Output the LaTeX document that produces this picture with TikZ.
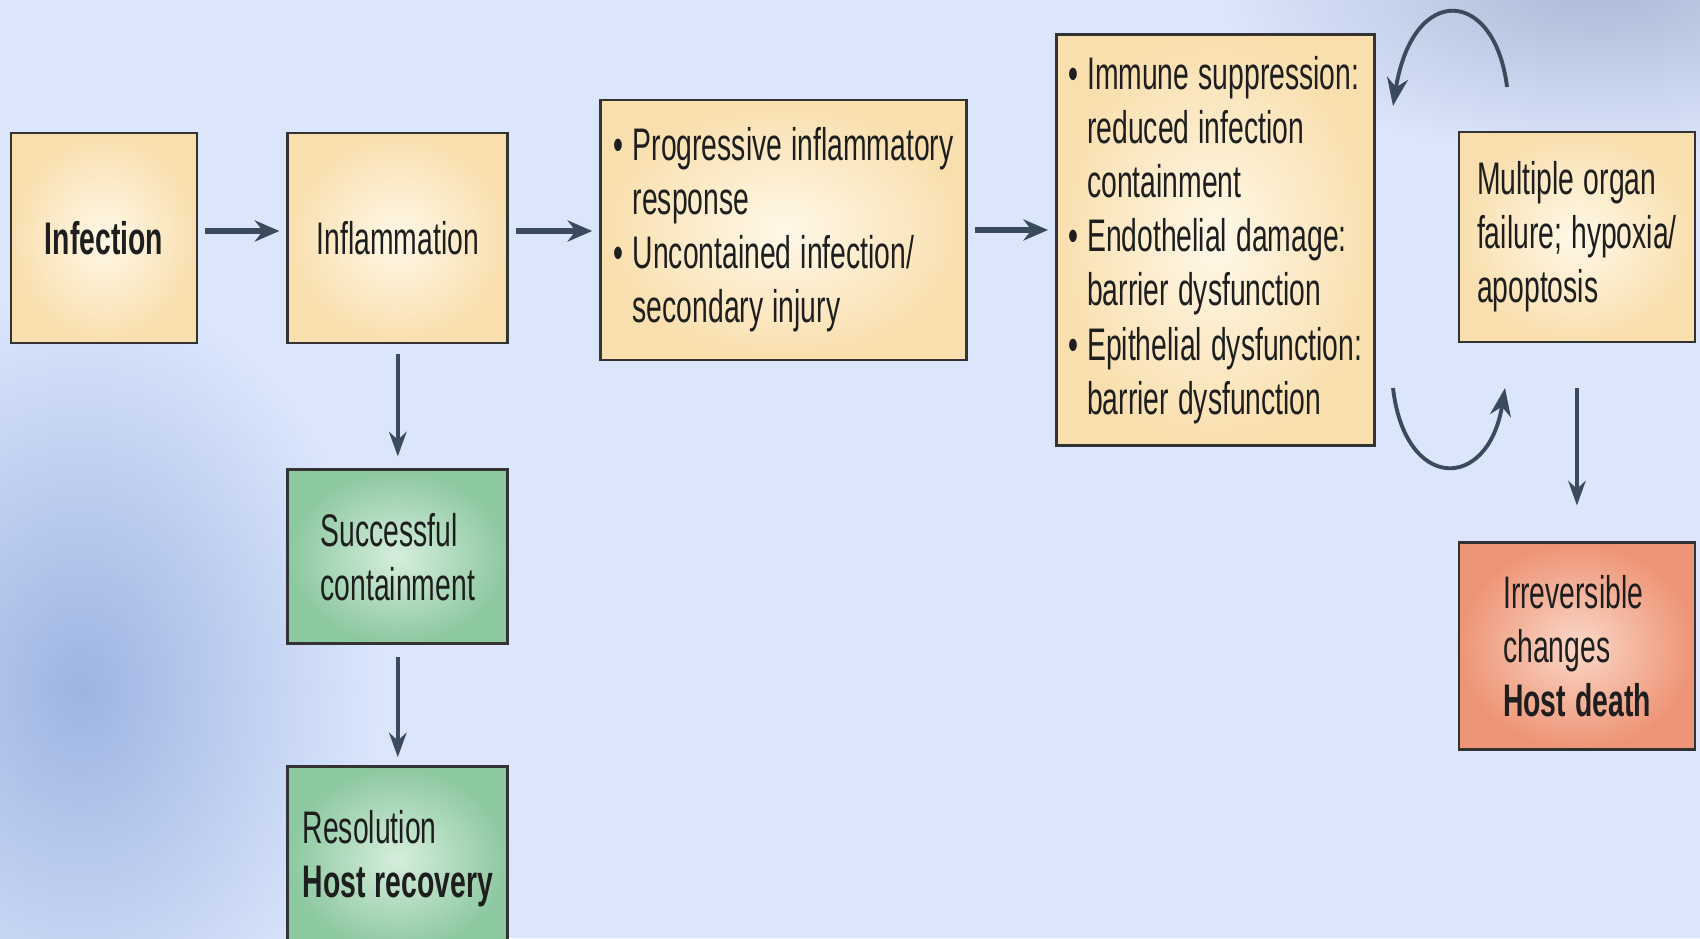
\documentclass[tikz,border=0pt]{standalone}
\usepackage{fontspec}
\setmainfont{Liberation Sans}[FakeStretch=0.62]
\usetikzlibrary{arrows.meta, positioning}
\definecolor{bgblue}{HTML}{DBE6FC}
\definecolor{blobleft}{HTML}{9DB4E2}
\definecolor{blobright}{HTML}{ADB9D6}
\definecolor{creamin}{HTML}{FFF8E8}
\definecolor{creamout}{HTML}{F9DFAE}
\definecolor{greenin}{HTML}{D6EEDC}
\definecolor{greenout}{HTML}{8CC8A0}
\definecolor{redin}{HTML}{FAD8C8}
\definecolor{redout}{HTML}{EE9476}
\definecolor{boxline}{HTML}{333333}
\definecolor{arrowcol}{HTML}{3A4B5C}
\definecolor{ink}{HTML}{1E1E1E}
\newcommand{\blt}{\makebox[0.19cm][l]{\textbullet}}
\newcommand{\bpad}{\hspace*{0.19cm}}
\newcommand{\boxfont}{\fontsize{13pt}{15.4pt}\selectfont
  \spaceskip=2.6pt plus 1pt minus 0.5pt\relax}
\tikzset{
  stage/.style={
    rectangle, draw=boxline, line width=0.8pt,
    inner color=creamin, outer color=creamout,
    minimum height=2.1cm, text=ink, font=\boxfont, align=flush left
  },
  good/.style={stage, inner color=greenin, outer color=greenout},
  bad/.style={stage, inner color=redin, outer color=redout},
  arrow/.style={-{Stealth[length=7pt, width=6pt]}, line width=1.5pt, color=arrowcol,
    shorten <=0.07cm, shorten >=0.07cm},
  down/.style={-{Stealth[length=7pt, width=5pt]}, line width=1pt, color=arrowcol},
  cycle/.style={-{Stealth[length=8pt, width=6pt]}, line width=1.1pt, color=arrowcol}
}
\begin{document}
\begin{tikzpicture}
  \clip (0,0) rectangle (17,9.38);
  \useasboundingbox (0,0) rectangle (17,9.38);

  % background
  \fill[bgblue] (0,0) rectangle (17,9.38);
  \shade[inner color=blobleft, outer color=bgblue] (0.8,2.5) ellipse (3.0 and 4.0);
  \shade[inner color=blobright, outer color=bgblue] (16.0,9.5) ellipse (3.8 and 1.7);

  % main row
  \node[stage, minimum width=1.86cm] (infection) at (1.04,7.0) {\bfseries Infection};
  \node[stage, minimum width=2.2cm, right=0.88cm of infection] (inflam) {Inflammation};
  \node[stage, minimum width=3.66cm, minimum height=2.6cm,
        right=0.9cm of inflam, yshift=0.08cm] (progress)
    {\blt Progressive inflammatory\\ \bpad response\\
     \blt Uncontained infection/\\ \bpad secondary injury};
  \node[stage, minimum width=3.17cm, minimum height=4.11cm,
        right=0.87cm of progress, yshift=-0.1cm] (immune)
    {\blt Immune suppression:\\ \bpad reduced infection\\ \bpad containment\\
     \blt Endothelial damage:\\ \bpad barrier dysfunction\\
     \blt Epithelial dysfunction:\\ \bpad barrier dysfunction};
  \node[stage, minimum width=2.36cm, right=0.82cm of immune, yshift=0.03cm] (organ)
    {Multiple organ\\ failure; hypoxia/\\ apoptosis};

  % outcomes
  \node[bad, minimum width=2.36cm, minimum height=2.07cm, below=1.98cm of organ] (death)
    {Irreversible\\ changes\\ \textbf{Host death}};
  \node[good, minimum width=2.2cm, minimum height=1.74cm, below=1.24cm of inflam] (contain)
    {Successful\\ containment};
  \node[good, minimum width=2.2cm, minimum height=1.85cm, below=1.2cm of contain] (recovery)
    {Resolution\\ \textbf{Host recovery}};

  % connectors
  \draw[arrow] ([yshift=0.07cm]infection.east) -- ([yshift=0.07cm]inflam.west);
  \draw[arrow] ([yshift=0.07cm]inflam.east) -- ([yshift=0.07cm]inflam.east -| progress.west);
  \draw[arrow] (progress.east) -- (progress.east -| immune.west);
  \draw[down, shorten <=0.1cm, shorten >=0.12cm] (inflam) -- (contain);
  \draw[down, shorten <=0.12cm, shorten >=0.08cm] (contain) -- (recovery);
  \draw[down, shorten <=0.45cm, shorten >=0.36cm] (organ) -- (death);

  % vicious circle
  \coordinate (loopA) at (15.07,8.51);
  \coordinate (loopB) at (13.93,8.32);
  \coordinate (loopC) at (13.93,5.50);
  \coordinate (loopD) at (15.05,5.50);
  \draw[cycle] (loopA) .. controls (14.95,9.5) and (14.13,9.56) .. (loopB);
  \draw[cycle] (loopC) .. controls (14.05,4.46) and (14.88,4.46) .. (loopD);
\end{tikzpicture}
\end{document}
